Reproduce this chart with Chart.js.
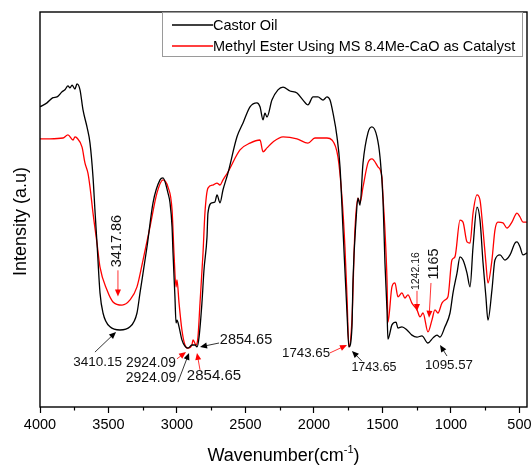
<!DOCTYPE html>
<html>
<head>
<meta charset="utf-8">
<script src="https://cdn.jsdelivr.net/npm/chart.js@4.4.1/dist/chart.umd.min.js"></script>
<style>
  html, body { margin: 0; padding: 0; background: #fff; }
  #wrap { width: 532px; height: 466px; position: relative; }
</style>
</head>
<body>
<div id="wrap"><canvas id="ftirChart"></canvas></div>
<script>
// Wavenumbers (cm-1) and intensities (a.u.)
const castorWn = [4000, 3949, 3905, 3876, 3839, 3818, 3796, 3781, 3766, 3745, 3730, 3708, 3686, 3657, 3635, 3613, 3599, 3584, 3562, 3540,
  3489, 3416, 3343, 3292, 3270, 3219, 3175, 3124, 3102, 3066, 3051, 3036, 3029, 3015, 3007, 3000, 2985, 2964, 2942, 2920,
  2891, 2869, 2854, 2839, 2818, 2803, 2781, 2774, 2745, 2723, 2708, 2686, 2664, 2628, 2562, 2518, 2467, 2416, 2394, 2372,
  2358, 2343, 2307, 2263, 2226, 2175, 2124, 2080, 2044, 2007, 1971, 1934, 1905, 1883, 1861, 1832, 1810, 1788, 1759, 1745,
  1723, 1715, 1693, 1679, 1664, 1642, 1606, 1577, 1540, 1518, 1496, 1482, 1467, 1460, 1431, 1401, 1387, 1358, 1321, 1285,
  1248, 1212, 1168, 1131, 1102, 1080, 1044, 1007, 985, 956, 934, 912, 883, 861, 839, 810, 788, 766, 745, 730,
  701, 679, 642, 606, 569, 533, 518, 496, 474, 445];
const castorInt = [76.0, 77.0, 78.3, 78.5, 79.8, 80.3, 81.3, 80.8, 81.5, 80.5, 81.8, 80.3, 75.2, 70.9, 66.8, 58.2, 49.9, 41.5, 28.9, 23.8,
  20.3, 19.5, 20.3, 23.8, 28.9, 40.5, 51.7, 57.5, 58.0, 54.2, 51.7, 45.6, 39.0, 27.9, 21.3, 22.0, 20.3, 17.0, 15.4, 14.9,
  15.7, 15.7, 15.2, 17.7, 26.3, 34.7, 43.0, 49.1, 51.7, 51.9, 53.7, 51.7, 55.0, 59.2, 68.4, 71.9, 76.0, 77.0, 76.0, 72.7,
  74.4, 73.4, 77.7, 80.3, 81.0, 80.0, 79.5, 77.7, 76.5, 78.5, 78.5, 77.7, 78.5, 77.7, 74.4, 68.4, 60.8, 44.8, 23.8, 15.2,
  20.0, 32.2, 47.3, 52.9, 51.1, 61.8, 69.4, 70.9, 68.4, 63.3, 52.4, 36.5, 24.6, 17.2, 20.8, 21.5, 20.0, 20.3, 19.5, 18.2,
  17.7, 18.0, 16.2, 17.5, 18.2, 17.7, 20.3, 23.8, 28.9, 33.9, 38.0, 37.2, 33.9, 30.4, 40.5, 50.6, 47.3, 36.5, 27.9, 22.0,
  29.6, 37.2, 38.5, 37.2, 38.5, 41.5, 41.8, 40.5, 38.5, 39.0];

const esterWn = [4000, 3927, 3832, 3796, 3759, 3745, 3730, 3693, 3672, 3650, 3635, 3613, 3584, 3562, 3511, 3467, 3401, 3343, 3292, 3248,
  3197, 3146, 3102, 3066, 3036, 3022, 3007, 3000, 2985, 2964, 2942, 2920, 2891, 2883, 2861, 2847, 2832, 2810, 2796, 2774,
  2737, 2708, 2686, 2664, 2628, 2540, 2467, 2394, 2372, 2343, 2299, 2226, 2124, 2044, 1993, 1905, 1869, 1825, 1796, 1774,
  1759, 1745, 1723, 1701, 1679, 1664, 1642, 1606, 1577, 1533, 1504, 1496, 1482, 1467, 1460, 1431, 1409, 1387, 1358, 1336,
  1314, 1285, 1248, 1226, 1204, 1168, 1139, 1117, 1095, 1066, 1044, 1022, 993, 971, 934, 912, 883, 861, 839, 810,
  788, 766, 745, 730, 701, 679, 657, 620, 591, 555, 518, 496, 474, 445];
const esterInt = [67.9, 67.9, 68.1, 68.9, 67.6, 68.4, 68.1, 65.8, 61.8, 59.2, 55.7, 49.1, 41.5, 35.4, 29.6, 26.6, 25.8, 27.1, 30.4, 37.2,
  45.6, 54.2, 57.5, 55.7, 49.9, 39.0, 30.4, 32.2, 26.3, 19.5, 15.7, 14.9, 15.7, 17.0, 15.7, 17.7, 26.3, 39.0, 49.1, 55.4,
  56.2, 56.7, 56.2, 57.5, 59.5, 65.1, 66.8, 67.6, 64.6, 65.6, 67.1, 68.4, 67.9, 66.8, 68.1, 68.1, 67.6, 63.3, 53.2, 40.5,
  27.9, 15.2, 22.0, 44.8, 52.9, 51.7, 55.7, 61.8, 62.8, 60.8, 58.2, 53.2, 44.8, 32.2, 21.5, 30.4, 31.4, 27.9, 28.9, 27.6,
  28.4, 26.3, 24.6, 22.8, 23.8, 19.0, 22.0, 24.6, 23.8, 26.3, 27.1, 27.9, 37.2, 38.0, 47.3, 46.8, 41.8, 41.5, 49.1, 53.7,
  52.4, 44.8, 36.5, 31.4, 37.2, 44.8, 46.8, 46.6, 45.3, 46.8, 49.1, 48.1, 46.8, 46.8];

const seriesLabels = ['Castor Oil', 'Methyl Ester Using MS 8.4Me-CaO as Catalyst'];
const seriesColors = ['#000000', '#ff0000'];
const xTickValues = [4000, 3500, 3000, 2500, 2000, 1500, 1000, 500];
const xMinorTicks = [3750, 3250, 2750, 2250, 1750, 1250, 750];

// Peak labels: text position and arrow ends in data units (wavenumber, intensity)
const peakNotes = [
  { text: '3417.86', color: '#ff0000', at: [3438, 42.0], rotate: true, size: 14.5, from: [3431, 34.6], to: [3431, 28.0] },
  { text: '3410.15', color: '#000000', at: [3580, 11.4], size: 13.5, from: [3599, 13.9], to: [3445, 19.0] },
  { text: '2924.09', color: '#ff0000', at: [3190, 11.1], size: 13.8, from: [3000, 12.2], to: [2934, 13.9] },
  { text: '2924.09', color: '#000000', at: [3190, 7.3], size: 14, from: [2993, 6.3], to: [2912, 13.7] },
  { text: '2854.65', color: '#000000', at: [2496, 17.0], size: 14.5, from: [2693, 16.2], to: [2832, 15.2] },
  { text: '2854.65', color: '#ff0000', at: [2730, 7.8], size: 15, from: [2832, 9.4], to: [2854, 13.7] },
  { text: '1743.65', color: '#ff0000', at: [2058, 13.7], size: 13.3, from: [1883, 13.7], to: [1759, 15.7] },
  { text: '1743.65', color: '#000000', at: [1562, 10.1], size: 12.5, from: [1650, 11.6], to: [1723, 14.2] },
  { text: '1242.16', color: '#ff0000', at: [1256, 34.4], rotate: true, size: 10.5, from: [1248, 29.4], to: [1248, 24.3] },
  { text: '1165', color: '#ff0000', at: [1124, 36.2], rotate: true, size: 14.4, from: [1146, 31.4], to: [1160, 22.6] },
  { text: '1095.57', color: '#000000', at: [1015, 10.6], size: 13.3, from: [1029, 12.9], to: [1080, 15.7] }
];

const FONT = "'Liberation Sans', Arial, sans-serif";

function toPoints(xs, ys) {
  return xs.map((x, i) => ({ x: x, y: ys[i] }));
}

function drawArrow(ctx, x1, y1, x2, y2, color) {
  const a = Math.atan2(y2 - y1, x2 - x1);
  const len = 7, half = 3;
  ctx.strokeStyle = color;
  ctx.fillStyle = color;
  ctx.lineWidth = 0.8;
  ctx.beginPath();
  ctx.moveTo(x1, y1);
  ctx.lineTo(x2 - len * 0.6 * Math.cos(a), y2 - len * 0.6 * Math.sin(a));
  ctx.stroke();
  ctx.beginPath();
  ctx.moveTo(x2, y2);
  ctx.lineTo(x2 - len * Math.cos(a) + half * Math.sin(a), y2 - len * Math.sin(a) - half * Math.cos(a));
  ctx.lineTo(x2 - len * Math.cos(a) - half * Math.sin(a), y2 - len * Math.sin(a) + half * Math.cos(a));
  ctx.closePath();
  ctx.fill();
}

const decorPlugin = {
  id: 'ftirDecor',
  afterDraw(chart) {
    const ctx = chart.ctx;
    const area = chart.chartArea;
    const xs = chart.scales.x, ys = chart.scales.y;
    ctx.save();

    // frame
    ctx.strokeStyle = '#000';
    ctx.lineWidth = 1.4;
    ctx.strokeRect(area.left, area.top, area.right - area.left, area.bottom - area.top);

    // minor ticks
    ctx.lineWidth = 1.2;
    xMinorTicks.forEach(v => {
      const px = Math.round(xs.getPixelForValue(v)) + 0.5;
      ctx.beginPath();
      ctx.moveTo(px, area.bottom);
      ctx.lineTo(px, area.bottom + 3.5);
      ctx.stroke();
    });

    // legend
    const lx = 162, ly = area.top, lw = 360, lh = 44;
    ctx.fillStyle = '#fff';
    ctx.fillRect(lx, ly, lw, lh);
    ctx.strokeStyle = '#9a9a9a';
    ctx.lineWidth = 1;
    ctx.strokeRect(lx + 0.5, ly + 0.5, lw, lh);
    ctx.font = '14.5px ' + FONT;
    ctx.textBaseline = 'middle';
    ctx.textAlign = 'left';
    seriesLabels.forEach((label, i) => {
      const yy = ly + 13 + i * 21;
      ctx.strokeStyle = seriesColors[i];
      ctx.lineWidth = 1.3;
      ctx.beginPath();
      ctx.moveTo(lx + 10, yy);
      ctx.lineTo(lx + 51, yy);
      ctx.stroke();
      ctx.fillStyle = '#000';
      ctx.fillText(label, lx + 51, yy + 1);
    });

    // peak labels (black text) with arrows in series colour
    peakNotes.forEach(n => {
      const tx = xs.getPixelForValue(n.at[0]);
      const ty = ys.getPixelForValue(n.at[1]);
      ctx.fillStyle = '#111';
      ctx.font = n.size + 'px ' + FONT;
      ctx.textAlign = 'center';
      ctx.textBaseline = 'middle';
      if (n.rotate) {
        ctx.save();
        ctx.translate(tx, ty);
        ctx.rotate(-Math.PI / 2);
        ctx.fillText(n.text, 0, 0);
        ctx.restore();
      } else {
        ctx.fillText(n.text, tx, ty);
      }
      drawArrow(ctx,
        xs.getPixelForValue(n.from[0]), ys.getPixelForValue(n.from[1]),
        xs.getPixelForValue(n.to[0]), ys.getPixelForValue(n.to[1]), n.color);
    });

    // axis titles
    ctx.fillStyle = '#000';
    ctx.textBaseline = 'alphabetic';
    ctx.textAlign = 'left';
    const main = 'Wavenumber(cm';
    const sup = '-1';
    const tail = ')';
    ctx.font = '18px ' + FONT;
    const w1 = ctx.measureText(main).width;
    const w3 = ctx.measureText(tail).width;
    ctx.font = '11px ' + FONT;
    const w2 = ctx.measureText(sup).width;
    let sx = (area.left + area.right) / 2 - (w1 + w2 + w3) / 2;
    const base = 461;
    ctx.font = '18px ' + FONT;
    ctx.fillText(main, sx, base);
    ctx.font = '11px ' + FONT;
    ctx.fillText(sup, sx + w1, base - 8);
    ctx.font = '18px ' + FONT;
    ctx.fillText(tail, sx + w1 + w2, base);

    ctx.save();
    ctx.translate(26, (area.top + area.bottom) / 2 + 12);
    ctx.rotate(-Math.PI / 2);
    ctx.textAlign = 'center';
    ctx.fillText('Intensity (a.u)', 0, 0);
    ctx.restore();

    ctx.restore();
  }
};

const ftirChart = new Chart(document.getElementById('ftirChart'), {
  type: 'line',
  data: {
    datasets: [
      {
        label: seriesLabels[0],
        data: toPoints(castorWn, castorInt),
        borderColor: seriesColors[0],
        borderWidth: 1.3,
        pointRadius: 0,
        cubicInterpolationMode: 'monotone'
      },
      {
        label: seriesLabels[1],
        data: toPoints(esterWn, esterInt),
        borderColor: seriesColors[1],
        borderWidth: 1.3,
        pointRadius: 0,
        cubicInterpolationMode: 'monotone'
      }
    ]
  },
  options: {
    responsive: true,
    maintainAspectRatio: false,
    animation: false,
    devicePixelRatio: 1,
    layout: { padding: { left: 40, top: 12, right: 5, bottom: 0 } },
    plugins: {
      legend: { display: false },
      tooltip: { enabled: false }
    },
    scales: {
      x: {
        type: 'linear',
        reverse: true,
        min: 445,
        max: 4000,
        afterBuildTicks: s => { s.ticks = xTickValues.map(v => ({ value: v })); },
        afterFit: s => { s.height = 59; s.paddingLeft = 0; s.paddingRight = 0; },
        border: { display: false },
        grid: { drawOnChartArea: false, tickLength: 6, tickColor: '#000', tickWidth: 1.2 },
        ticks: {
          color: '#000',
          font: { family: FONT, size: 14.5 },
          padding: 3,
          maxRotation: 0,
          autoSkip: false,
          callback: v => String(v)
        }
      },
      y: {
        display: false,
        min: 0,
        max: 100
      }
    }
  },
  plugins: [decorPlugin]
});
</script>
</body>
</html>
